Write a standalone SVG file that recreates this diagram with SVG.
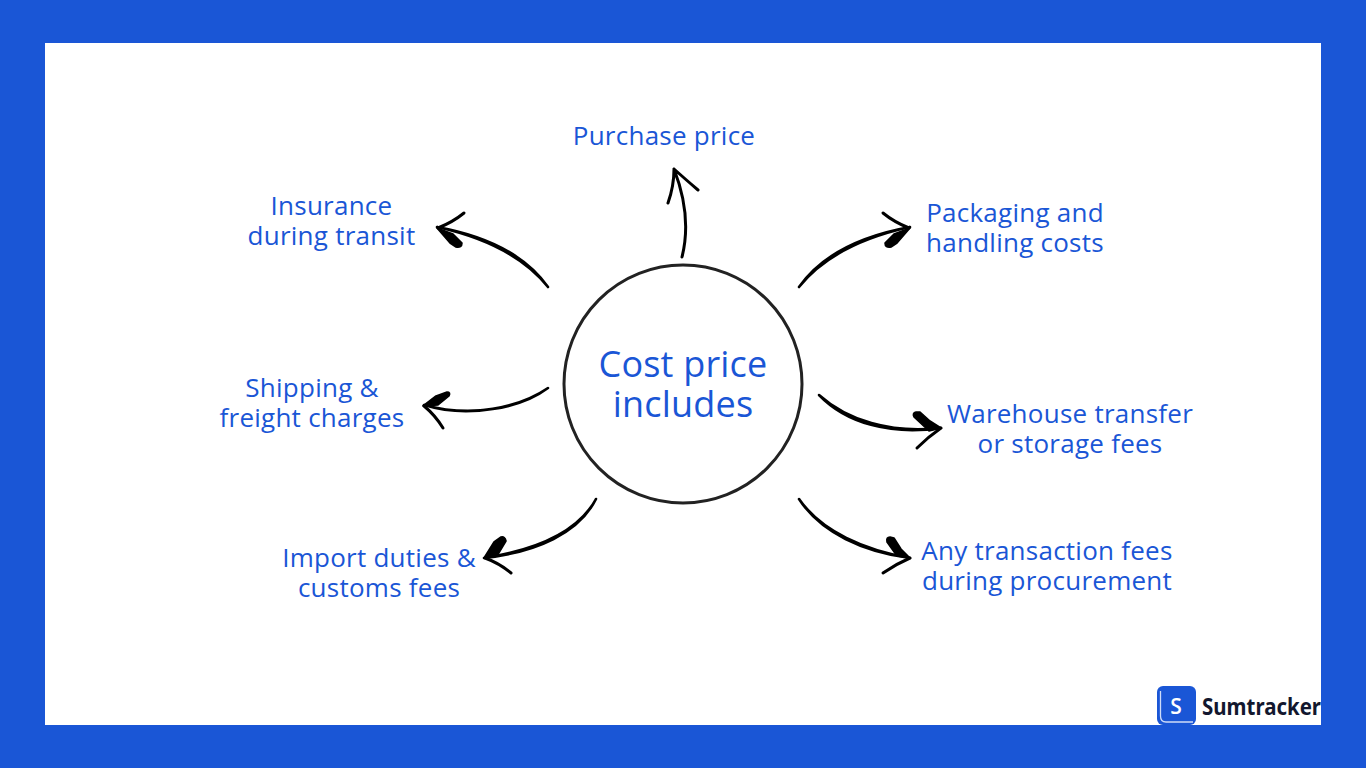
<svg xmlns="http://www.w3.org/2000/svg" width="1366" height="768" viewBox="0 0 1366 768">
<style>
text{font-family:"Open Sans","Noto Sans",sans-serif;fill:#1a56d6;text-anchor:middle}
.l{font-size:26px;letter-spacing:.25px}
.c{font-size:36px;letter-spacing:.2px}
.a{fill:none;stroke:#000;stroke-width:3;stroke-linecap:round;stroke-linejoin:round}
.s{fill:#000;stroke:#000;stroke-width:2.6;stroke-linecap:round;stroke-linejoin:round}
.t{fill:#000;stroke:#000;stroke-width:1.6;stroke-linejoin:round;stroke-linecap:round}
</style>
<rect width="1366" height="768" fill="#1a56d6"/>
<rect x="45" y="43" width="1276" height="682" fill="#fff"/>
<g id="connectors">
<path class="a" d="M682 257C689 229 686 200 674 169M668 203Q674 186 674 169Q684 178 698 190"/>
<path class="s" d="M799 287C823 253 866 235 910 227C867 236.500 825 254.500 799 287Z"/>
<path class="a" d="M883 213Q894 222 909 228"/>
<path class="t" d="M910 228L894 234L885 243Q885 248 891 247L897 243Z"/>
<path class="s" d="M548 287C524 253 481 235 437 227C480 236.500 522 254.500 548 287Z"/>
<path class="a" d="M464 213Q453 222 438 228"/>
<path class="t" d="M437 228L453 234L462 243Q462 248 456 247L450 243Z"/>
<path class="s" d="M548 388C520 407 470 419 424 405C470 417.500 520 409 548 388Z"/>
<path class="a" d="M443 428Q435 415 424 406"/>
<path class="t" d="M423 406L438 405L449 396Q451 392 447 392L436 396Z"/>
<path class="s" d="M596 499C578 532 535 550 484 558C537 552 579 533 596 499Z"/>
<path class="a" d="M511 573Q499 563 485 558"/>
<path class="t" d="M484 558L497 556L506 541Q505 536 501 537L494 542Z"/>
<path class="s" d="M819 395C847 420 890 434 941 428C890 435.500 846 423 819 395Z"/>
<path class="a" d="M917 448Q928 437 941 428"/>
<path class="t" d="M941 428L929 431L914 417Q912 413 916 412L920 412L930 421Z"/>
<path class="s" d="M799 499C822 532 865 550 910 558C864 552 821 533 799 499Z"/>
<path class="a" d="M883 573Q896 564 910 558"/>
<path class="t" d="M910 558L897 556L887 542Q886 537 890 537L894 538L901 549Z"/>
</g>
<g id="center">
<circle cx="683" cy="384" r="119" fill="#fff" stroke="#222" stroke-width="3"/>
<text class="c"><tspan x="683" y="377">Cost price</tspan><tspan x="683" y="417">includes</tspan></text>
</g>
<g id="purchase"><text class="l" x="664" y="145">Purchase price</text></g>
<g id="insurance"><text class="l"><tspan x="331.500" y="215">Insurance</tspan><tspan x="331.500" y="245">during transit</tspan></text></g>
<g id="packaging"><text class="l"><tspan x="1015" y="222">Packaging and</tspan><tspan x="1015" y="252">handling costs</tspan></text></g>
<g id="shipping"><text class="l"><tspan x="312" y="397">Shipping &amp;</tspan><tspan x="312" y="427">freight charges</tspan></text></g>
<g id="warehouse"><text class="l"><tspan x="1070" y="423">Warehouse transfer</tspan><tspan x="1070" y="453">or storage fees</tspan></text></g>
<g id="import"><text class="l"><tspan x="379" y="567">Import duties &amp;</tspan><tspan x="379" y="597">customs fees</tspan></text></g>
<g id="transaction"><text class="l"><tspan x="1047" y="560">Any transaction fees</tspan><tspan x="1047" y="590">during procurement</tspan></text></g>
<g id="logo">
<rect x="1157" y="686" width="39" height="39" rx="6" fill="#1a56d6"/>
<path d="M1160.500 691V716Q1160.500 722 1166 722H1193" fill="none" stroke="#cfdcf8" stroke-width="1.300"/>
<text x="1176" y="714" style="font-size:21px;font-weight:600;fill:#fff">S</text>
<text x="1202" y="715" textLength="119" lengthAdjust="spacingAndGlyphs" style="font-family:'Noto Sans',sans-serif;font-size:24px;font-weight:700;fill:#12172e;text-anchor:start">Sumtracker</text>
</g>
</svg>
